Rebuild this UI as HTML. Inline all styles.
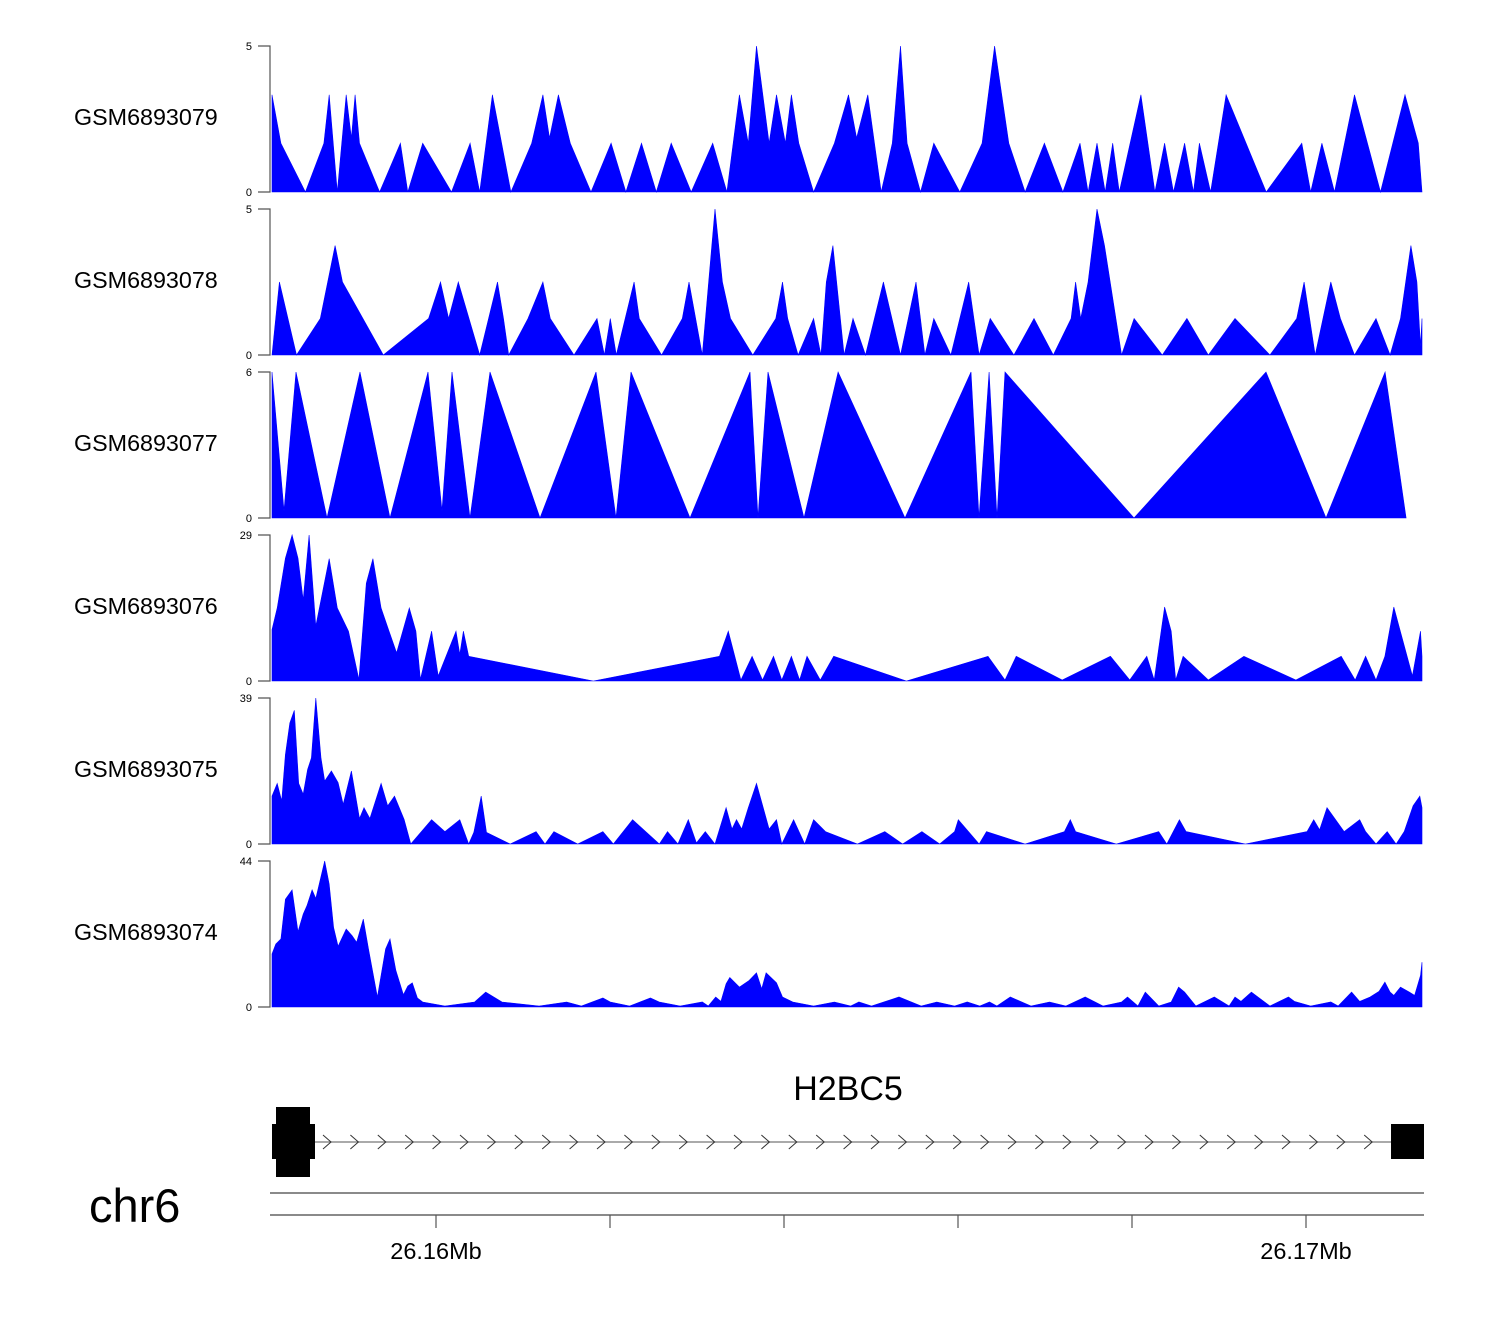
<!DOCTYPE html>
<html><head><meta charset="utf-8"><style>
html,body{margin:0;padding:0;background:#fff;}
svg{display:block;font-family:"Liberation Sans",sans-serif;}
</style></head><body>
<svg id="chart" width="1500" height="1320" viewBox="0 0 1500 1320" xmlns="http://www.w3.org/2000/svg">
<g id="tracks"></g>
<g id="gene">
<text x="848" y="1100" font-size="34" text-anchor="middle" fill="#000">H2BC5</text>
</g>
<g id="axis">
<text x="89" y="1222" font-size="47" fill="#000">chr6</text>
<line x1="270" y1="1193" x2="1424" y2="1193" stroke="#444" stroke-width="1.3"/>
<line x1="270" y1="1215" x2="1424" y2="1215" stroke="#444" stroke-width="1.3"/>
</g>
</svg>
<script>
const regionStart = 26158121;
const regionLen = 13175;
const trackNames = ["GSM6893079","GSM6893078","GSM6893077","GSM6893076","GSM6893075","GSM6893074"];
const trackMax = [5,5,6,29,39,44];
const axisTicks = [26160000,26162000,26164000,26166000,26168000,26170000];
const axisTickLabels = ["26.16Mb","","","","","26.17Mb"];
const geneExons = [[0,433],[12820,13175]];

const pos79 = [0,102,383,595,655,748,850,910,952,1003,1233,1471,1556,1726,2057,2270,2380,2525,2737,2975,3103,3179,3281,3417,3655,3885,4055,4233,4403,4573,4803,5049,5211,5355,5457,5551,5695,5780,5882,5950,6035,6205,6443,6605,6698,6826,6979,7106,7200,7276,7429,7582,7880,8135,8279,8441,8628,8849,9061,9257,9350,9452,9546,9631,9707,9954,10115,10226,10328,10455,10557,10625,10753,10931,11390,11798,11900,12028,12172,12402,12699,12980,13133,13175];
const val79 = [3.33,1.67,0,1.67,3.33,0,3.33,1.85,3.33,1.67,0,1.67,0,1.67,0,1.67,0,3.33,0,1.67,3.33,1.85,3.33,1.67,0,1.67,0,1.67,0,1.67,0,1.67,0,3.33,1.67,5,1.67,3.33,1.67,3.33,1.67,0,1.67,3.33,1.85,3.33,0,1.67,5,1.67,0,1.67,0,1.67,5,1.67,0,1.67,0,1.67,0,1.67,0,1.67,0,3.33,0,1.67,0,1.67,0,1.67,0,3.33,0,1.67,0,1.67,0,3.33,0,3.33,1.67,0];

const pos78 = [0,85,281,553,723,808,1275,1794,1930,2023,2134,2380,2584,2652,2712,2933,3103,3188,3460,3723,3808,3876,3944,4148,4208,4463,4701,4777,4930,5075,5160,5253,5508,5772,5848,5908,6027,6205,6290,6350,6426,6554,6656,6800,7004,7200,7378,7480,7582,7778,7982,8101,8228,8500,8730,8951,9155,9206,9265,9350,9452,9537,9733,9877,10200,10481,10727,11033,11433,11739,11824,11951,12130,12240,12402,12648,12810,12929,13048,13116,13158,13175];
const val78 = [0,2.5,0,1.25,3.75,2.5,0,1.25,2.5,1.25,2.5,0,2.5,1.25,0,1.25,2.5,1.25,0,1.25,0,1.25,0,2.5,1.25,0,1.25,2.5,0,5,2.5,1.25,0,1.25,2.5,1.25,0,1.25,0,2.5,3.75,0,1.25,0,2.5,0,2.5,0,1.25,0,2.5,0,1.25,0,1.25,0,1.25,2.5,1.25,2.5,5,3.75,0,1.25,0,1.25,0,1.25,0,1.25,2.5,0,2.5,1.25,0,1.25,0,1.25,3.75,2.5,0.3,1.25];

const pos77 = [0,137,275,630,1008,1352,1787,1948,2062,2268,2498,3070,3712,3941,4113,4789,5476,5568,5683,6095,6485,7252,8008,8100,8215,8306,8398,9876,11388,12075,12752,12993];
const val77 = [6,0.3,6,0,6,0,6,0.3,6,0,6,0,6,0,6,0,6,0,6,0,6,0,6,0,6,0,6,0,6,0,6,0];

const pos76 = [0,60,153,230,298,357,425,502,655,748,876,995,1080,1156,1250,1335,1428,1573,1649,1700,1828,1904,2108,2151,2193,2253,3681,5126,5228,5372,5500,5619,5746,5840,5950,6044,6129,6282,6435,7268,8203,8398,8526,9053,9605,9826,10022,10107,10226,10302,10353,10438,10727,11135,11730,12249,12410,12529,12648,12750,12852,13065,13158,13175];
const val76 = [10.2,14.5,24.4,29,24.4,16.1,29,10.9,24.3,14.5,9.9,0.3,19.4,24.3,14.5,10.2,5.6,14.5,9.9,0.3,9.9,1,9.9,5.3,9.9,4.9,0,4.9,9.9,0.2,4.9,0.2,4.9,0.2,4.9,0.2,4.9,0.2,4.9,0,4.9,0.2,4.9,0.2,4.9,0.2,4.9,0.2,14.7,9.9,0.2,4.9,0.2,4.9,0.2,4.9,0.2,4.9,0.2,4.9,14.7,1,9.9,4.9];

const pos75 = [0,60,111,153,204,255,306,357,408,451,502,561,604,680,757,816,910,1003,1054,1122,1250,1326,1403,1513,1590,1828,1981,2151,2253,2312,2397,2457,2729,3026,3128,3230,3502,3791,3910,4131,4437,4531,4650,4769,4862,4964,5075,5202,5270,5321,5381,5457,5551,5695,5780,5840,5976,6103,6205,6341,6707,7021,7225,7446,7650,7820,7863,8101,8186,8628,9078,9146,9206,9673,10158,10251,10396,10472,11152,11858,11934,12002,12087,12283,12461,12529,12648,12776,12878,12971,13073,13150,13175];
const val75 = [12.8,16.2,11.5,23.9,32.3,35.7,16.2,13.3,19.9,23,39,23,16.8,19.5,16.4,10.6,19.5,6.8,9.7,6.8,16.2,10.2,12.8,6.6,0,6.5,3.3,6.5,0,3.1,12.8,3.1,0,3.3,0,3.3,0,3.3,0,6.5,0,3.3,0,6.5,0.3,3.3,0,9.7,4,6.5,4,9.7,16.2,4,6.5,0,6.5,0,6.5,3.3,0,3.3,0,3.3,0,3.3,6.5,0,3.3,0,3.3,6.5,3.3,0,3.3,0,6.5,3.3,0,3.3,6.5,3.8,9.7,3.3,6.5,3.3,0,3.3,0,3.3,10.2,12.8,9.7];

const pos74 = [0,43,102,153,230,298,357,400,459,502,604,655,706,757,850,918,969,1046,1105,1207,1301,1352,1420,1505,1556,1607,1666,1726,1981,2321,2448,2635,3060,3375,3545,3791,3876,4097,4335,4437,4675,4930,4998,5083,5143,5202,5245,5355,5466,5551,5610,5661,5780,5848,5967,6205,6443,6630,6724,6868,7183,7438,7616,7820,7965,8109,8220,8305,8458,8696,8908,9095,9316,9520,9733,9801,9920,10005,10158,10302,10387,10455,10583,10795,10965,11033,11101,11220,11433,11645,11713,11900,12130,12215,12368,12461,12580,12682,12750,12810,12852,12929,13031,13090,13158,13175];
const val74 = [16,19,20.5,32.5,35.3,22.7,28,30.5,35.3,32.7,44,37,24,18.3,23.5,21.5,19.5,26.5,17.5,3,17.5,20.5,11,3.7,6.3,7.3,2.7,1.5,0.3,1.5,4.5,1.5,0.3,1.5,0.3,2.7,1.5,0.3,2.7,1.5,0.3,1.5,0.3,3,1.7,7,8.9,6,8,10.3,5.5,10.3,7.3,3,1.5,0.3,1.5,0.3,1.5,0.3,3,0.3,1.5,0.3,1.5,0.3,1.5,0.3,3,0.3,1.5,0.3,3,0.3,1.5,3,0.3,4.5,0.3,1.5,6,4.5,0.3,3,0.3,3,1.7,4.5,0.3,3,1.7,0.3,1.5,0.3,4.5,1.7,3,4.7,7.5,4.5,3.5,6,4.5,3.5,9.5,13.5];

const trackPos = [pos79,pos78,pos77,pos76,pos75,pos74];
const trackVal = [val79,val78,val77,val76,val75,val74];

const NS = "http://www.w3.org/2000/svg";
const X0 = 272, X1 = 1422;
function xScale(g){ return X0 + (g - regionStart) * (X1 - X0) / regionLen; }
function xOff(o){ return xScale(regionStart + o); }
function mk(tag, attrs, parent){ const e = document.createElementNS(NS, tag); for (const k in attrs) e.setAttribute(k, attrs[k]); parent.appendChild(e); return e; }

const tracksG = document.getElementById('tracks');
trackNames.forEach((name, i) => {
  const top = 46 + i * 163, bot = top + 146;
  const yScale = v => bot - v / trackMax[i] * (bot - top);
  const g = mk('g', {}, tracksG);
  
  
  const lab = mk('text', {x: 74, y: top + 79, 'font-size': 23.3, fill: '#000'}, g);
  lab.textContent = name;
  
  
  const ax = mk('path', {d: `M258 ${top}H270V${bot}H258`, stroke: '#555', 'stroke-width': 1.2, fill: 'none'}, g);
  
  
  const tMax = mk('text', {x: 252, y: top + 4, 'font-size': 11, 'text-anchor': 'end', fill: '#000'}, g);
  tMax.textContent = String(trackMax[i]);
  
  
  const tMin = mk('text', {x: 252, y: bot + 4, 'font-size': 11, 'text-anchor': 'end', fill: '#000'}, g);
  tMin.textContent = '0';
  
  
  const P = trackPos[i], V = trackVal[i];
  let d = `M${xOff(P[0]).toFixed(1)} ${bot}`;
  for (let k = 0; k < P.length; k++) d += `L${xOff(P[k]).toFixed(1)} ${yScale(V[k]).toFixed(1)}`;
  d += `L${xOff(P[P.length-1]).toFixed(1)} ${bot}Z`;
  const area = mk('path', {d: d, fill: '#0000ff', stroke: '#0000ff', 'stroke-width': 0.6}, g);
  
  
});

// gene model
const geneG = document.getElementById('gene');
const intronStart = xOff(geneExons[0][1]), intronEnd = xOff(geneExons[1][0]);
const intron = mk('line', {x1: intronStart, y1: 1142, x2: intronEnd, y2: 1142, stroke: '#777', 'stroke-width': 1.2}, geneG);


for (let cx = 327; cx < intronEnd - 8; cx += 27.4) {
  const ch = mk('path', {d: `M${cx-4} 1135L${cx+4} 1142L${cx-4} 1149`, stroke: '#333', 'stroke-width': 1, fill: 'none'}, geneG);
  
  
}
const ex1 = mk('path', {d: 'M276 1107H310V1124H315V1159H310V1177H276V1159H272V1124H276Z', fill: '#000'}, geneG);


const ex2 = mk('rect', {x: intronEnd, y: 1124, width: 1424 - intronEnd, height: 35, fill: '#000'}, geneG);



// axis ticks
const axisG = document.getElementById('axis');
axisTicks.forEach((t, i) => {
  const x = 436 + (t - 26160000) * 0.087;
  const tk = mk('line', {x1: x, y1: 1215, x2: x, y2: 1228, stroke: '#555', 'stroke-width': 1.2}, axisG);
  
  
  if (axisTickLabels[i]) {
    const tl = mk('text', {x: x, y: 1259, 'font-size': 23.5, 'text-anchor': 'middle', fill: '#000'}, axisG);
    tl.textContent = axisTickLabels[i];
    
    
  }
});
</script>
</body></html>
